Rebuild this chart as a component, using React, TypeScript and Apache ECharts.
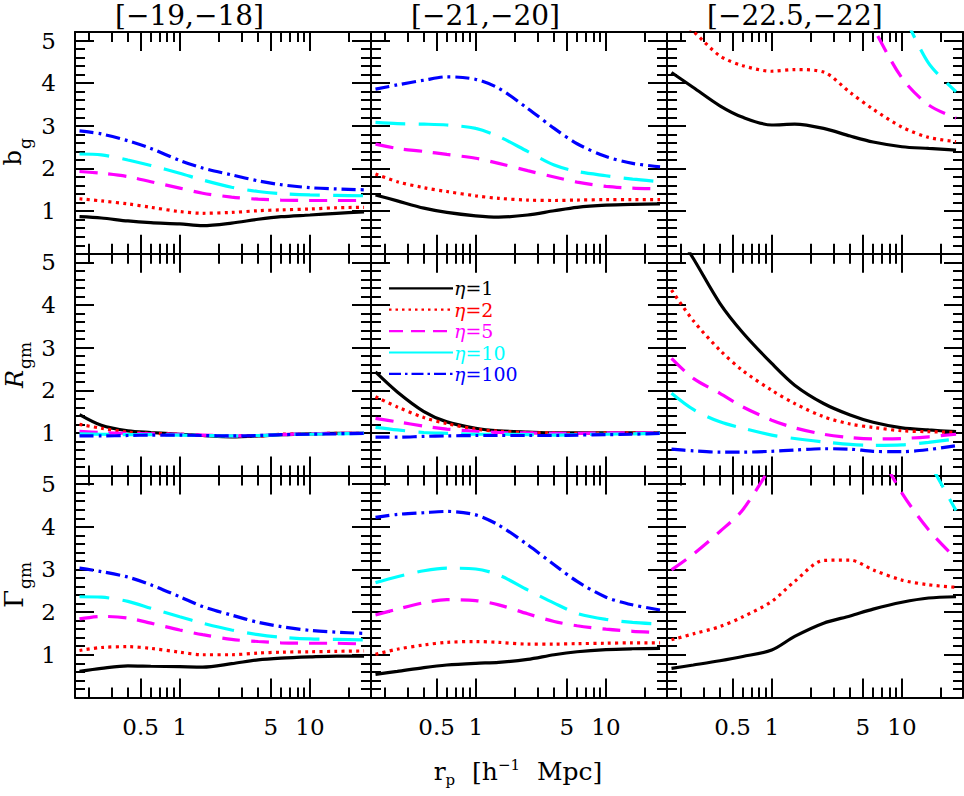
import React, { useEffect, useRef } from 'react';
import * as echarts from 'echarts';

// ---------- scaffold ----------
const R_P = [0.17, 0.25, 0.4, 0.6, 1.0, 1.5, 2.5, 4, 6, 10, 16, 26];
const MAG_BINS = ['[−19,−18]', '[−21,−20]', '[−22.5,−22]'];
const ETA_VALUES = ['1', '2', '5', '10', '100'];
const X_MAJOR_TICKS = [0.5, 1, 5, 10];
const X_MINOR_TICKS = [0.2, 0.3, 0.4, 0.6, 0.7, 0.8, 0.9, 2, 3, 4, 6, 7, 8, 9, 20];
const Y_MAJOR_TICKS = [1, 2, 3, 4, 5];
const Y_MINOR_TICKS = [0.2, 0.4, 0.6, 0.8, 1.2, 1.4, 1.6, 1.8, 2.2, 2.4, 2.6, 2.8, 3.2, 3.4, 3.6, 3.8, 4.2, 4.4, 4.6, 4.8];
const X_MIN = 0.157;
const X_MAX = 29.4;
const Y_MIN = 0;
const Y_MAX = 5.2;
const ROW_MAIN = ['b', 'R', 'Γ'];
const ROW_SUB = ['g', 'gm', 'gm'];

// ---------- b_g ----------
const bg19_eta1 = [0.87, 0.84, 0.77, 0.73, 0.70, 0.66, 0.72, 0.81, 0.87, 0.91, 0.95, 0.98];
const bg19_eta2 = [1.29, 1.24, 1.17, 1.09, 0.99, 0.95, 0.97, 1.01, 1.03, 1.05, 1.08, 1.09];
const bg19_eta5 = [1.93, 1.89, 1.81, 1.69, 1.54, 1.42, 1.33, 1.28, 1.26, 1.25, 1.25, 1.25];
const bg19_eta10 = [2.34, 2.32, 2.20, 2.07, 1.89, 1.73, 1.56, 1.46, 1.41, 1.38, 1.37, 1.36];
const bg19_eta100 = [2.88, 2.81, 2.65, 2.47, 2.19, 2.01, 1.85, 1.71, 1.62, 1.55, 1.52, 1.50];

const bg21_eta1 = [1.38, 1.24, 1.07, 0.97, 0.89, 0.86, 0.91, 1.01, 1.09, 1.14, 1.16, 1.17];
const bg21_eta2 = [1.87, 1.69, 1.55, 1.46, 1.36, 1.30, 1.26, 1.25, 1.26, 1.27, 1.27, 1.27];
const bg21_eta5 = [2.57, 2.47, 2.40, 2.33, 2.24, 2.12, 1.95, 1.80, 1.68, 1.58, 1.54, 1.52];
const bg21_eta10 = [3.08, 3.05, 3.04, 3.02, 2.94, 2.75, 2.40, 2.08, 1.93, 1.83, 1.75, 1.69];
const bg21_eta100 = [3.86, 3.96, 4.07, 4.15, 4.09, 3.88, 3.41, 2.94, 2.58, 2.28, 2.12, 2.04];

const bg22_eta1 = [4.25, 3.90, 3.47, 3.20, 3.02, 3.04, 2.94, 2.76, 2.62, 2.51, 2.47, 2.43];
const bg22_eta2 = [5.6, 5.21, 4.64, 4.41, 4.28, 4.32, 4.26, 3.78, 3.39, 2.97, 2.73, 2.63];
const bg22_eta5 = [null, null, null, null, null, null, null, 6.3, 5.31, 4.12, 3.49, 3.18];
const bg22_eta10 = [null, null, null, null, null, null, null, null, null, 5.7, 4.47, 3.80];
const bg22_eta100 = [null, null, null, null, null, null, null, null, null, null, null, null];

// ---------- R_gm ----------
const rgm19_eta1 = [1.43, 1.18, 1.05, 1.01, 0.97, 0.94, 0.91, 0.93, 0.96, 0.98, 0.99, 0.99];
const rgm19_eta2 = [1.20, 1.11, 1.02, 0.99, 0.97, 0.94, 0.93, 0.93, 0.97, 0.98, 0.99, 0.99];
const rgm19_eta5 = [1.04, 1.01, 0.99, 0.98, 0.97, 0.95, 0.93, 0.94, 0.96, 0.98, 0.99, 0.99];
const rgm19_eta10 = [0.98, 0.97, 0.96, 0.96, 0.95, 0.94, 0.93, 0.94, 0.96, 0.97, 0.98, 0.99];
const rgm19_eta100 = [0.93, 0.93, 0.94, 0.95, 0.95, 0.94, 0.93, 0.94, 0.96, 0.97, 0.98, 0.99];

const rgm21_eta1 = [2.43, 1.96, 1.50, 1.26, 1.11, 1.05, 1.02, 1.00, 1.00, 1.00, 1.00, 1.00];
const rgm21_eta2 = [1.85, 1.61, 1.36, 1.22, 1.09, 1.04, 1.01, 1.00, 0.99, 1.00, 1.00, 1.00];
const rgm21_eta5 = [1.34, 1.26, 1.16, 1.09, 1.04, 1.01, 1.00, 0.99, 0.99, 1.00, 1.00, 1.00];
const rgm21_eta10 = [1.13, 1.07, 1.01, 0.99, 0.97, 0.97, 0.96, 0.95, 0.96, 0.97, 0.98, 0.99];
const rgm21_eta100 = [0.90, 0.90, 0.92, 0.93, 0.94, 0.94, 0.94, 0.94, 0.95, 0.96, 0.97, 0.99];

const rgm22_eta1 = [5.9, 5.09, 4.04, 3.35, 2.63, 2.12, 1.69, 1.42, 1.25, 1.12, 1.07, 1.03];
const rgm22_eta2 = [4.35, 3.63, 2.94, 2.46, 2.00, 1.69, 1.38, 1.21, 1.13, 1.05, 1.03, 1.01];
const rgm22_eta5 = [2.75, 2.28, 1.93, 1.61, 1.30, 1.12, 0.97, 0.89, 0.86, 0.87, 0.91, 0.97];
const rgm22_eta10 = [1.93, 1.55, 1.26, 1.11, 0.95, 0.87, 0.79, 0.73, 0.71, 0.72, 0.78, 0.86];
const rgm22_eta100 = [0.62, 0.58, 0.55, 0.55, 0.57, 0.60, 0.63, 0.62, 0.57, 0.56, 0.61, 0.70];

// ---------- Gamma_gm ----------
const ggm19_eta1 = [0.61, 0.68, 0.74, 0.73, 0.72, 0.71, 0.79, 0.88, 0.92, 0.95, 0.97, 0.97];
const ggm19_eta2 = [1.10, 1.17, 1.19, 1.15, 1.06, 1.00, 1.00, 1.04, 1.06, 1.07, 1.08, 1.09];
const ggm19_eta5 = [1.84, 1.90, 1.86, 1.74, 1.58, 1.47, 1.36, 1.31, 1.28, 1.27, 1.27, 1.25];
const ggm19_eta10 = [2.36, 2.35, 2.25, 2.09, 1.89, 1.74, 1.58, 1.47, 1.41, 1.37, 1.36, 1.35];
const ggm19_eta100 = [3.03, 2.95, 2.82, 2.64, 2.36, 2.13, 1.93, 1.76, 1.66, 1.57, 1.53, 1.50];

const ggm21_eta1 = [0.54, 0.61, 0.70, 0.76, 0.80, 0.82, 0.89, 1.00, 1.07, 1.12, 1.14, 1.15];
const ggm21_eta2 = [1.01, 1.13, 1.23, 1.29, 1.31, 1.29, 1.25, 1.25, 1.26, 1.27, 1.28, 1.28];
const ggm21_eta5 = [1.93, 2.07, 2.22, 2.29, 2.27, 2.17, 1.96, 1.78, 1.68, 1.60, 1.55, 1.52];
const ggm21_eta10 = [2.69, 2.83, 2.97, 3.03, 3.01, 2.87, 2.52, 2.21, 1.97, 1.83, 1.76, 1.72];
const ggm21_eta100 = [4.22, 4.29, 4.33, 4.36, 4.28, 4.04, 3.58, 3.11, 2.72, 2.35, 2.17, 2.05];

const ggm22_eta1 = [0.68, 0.76, 0.86, 0.96, 1.11, 1.43, 1.74, 1.91, 2.07, 2.23, 2.33, 2.36];
const ggm22_eta2 = [1.35, 1.49, 1.66, 1.89, 2.25, 2.72, 3.21, 3.22, 2.99, 2.75, 2.64, 2.58];
const ggm22_eta5 = [2.99, 3.36, 3.89, 4.40, 5.45, null, null, null, 6.0, 4.79, 3.93, 3.25];
const ggm22_eta10 = [null, null, null, null, null, null, null, null, null, null, 5.54, 4.38];
const ggm22_eta100 = [null, null, null, null, null, null, null, null, null, null, null, null];

const PANELS = [
  [bg19_eta1, bg19_eta2, bg19_eta5, bg19_eta10, bg19_eta100],
  [bg21_eta1, bg21_eta2, bg21_eta5, bg21_eta10, bg21_eta100],
  [bg22_eta1, bg22_eta2, bg22_eta5, bg22_eta10, bg22_eta100],
  [rgm19_eta1, rgm19_eta2, rgm19_eta5, rgm19_eta10, rgm19_eta100],
  [rgm21_eta1, rgm21_eta2, rgm21_eta5, rgm21_eta10, rgm21_eta100],
  [rgm22_eta1, rgm22_eta2, rgm22_eta5, rgm22_eta10, rgm22_eta100],
  [ggm19_eta1, ggm19_eta2, ggm19_eta5, ggm19_eta10, ggm19_eta100],
  [ggm21_eta1, ggm21_eta2, ggm21_eta5, ggm21_eta10, ggm21_eta100],
  [ggm22_eta1, ggm22_eta2, ggm22_eta5, ggm22_eta10, ggm22_eta100],
];

// ---------- styles ----------
const FONT = 'DejaVu Serif';
const COLORS = ['#000000', '#ff0000', '#ff00ff', '#00ffff', '#0000ff'];
const DASHES: any[] = ['solid', [3, 4.3], [18, 11], [30, 13], [14, 5, 3, 5]];
const LEGEND_DASHES: any[] = [null, [2.5, 4], [14, 8], null, [12, 4, 2.5, 4]];
const GRID_LEFT = 75;
const GRID_TOP = 32;
const CELL_W = 296;
const CELL_H = 221.8;

function measure(text: string, font: string): number {
  const ctx = document.createElement('canvas').getContext('2d');
  if (!ctx) return text.length * 10;
  ctx.font = font;
  return ctx.measureText(text).width;
}

function buildOption() {
  const grid: any[] = [];
  const xAxis: any[] = [];
  const yAxis: any[] = [];
  const series: any[] = [];
  const tickLine = { color: '#000', width: 2 };
  const axisLineOn = { show: true, onZero: false, lineStyle: { color: '#000', width: 2 } };
  const axisLineOff = { show: false, onZero: false };

  for (let row = 0; row < 3; row++) {
    for (let col = 0; col < 3; col++) {
      const g = row * 3 + col;
      grid.push({
        left: GRID_LEFT + col * CELL_W,
        top: GRID_TOP + row * CELL_H,
        width: CELL_W,
        height: CELL_H,
        show: false,
      });
      const xBase = {
        type: 'log', logBase: 10, gridIndex: g, min: X_MIN, max: X_MAX,
        splitLine: { show: false }, minorTick: { show: false }, minorSplitLine: { show: false },
      };
      for (const pos of ['bottom', 'top']) {
        xAxis.push({
          ...xBase, position: pos, axisLine: axisLineOn,
          axisTick: { show: true, inside: true, length: 19, customValues: X_MAJOR_TICKS, lineStyle: tickLine },
          axisLabel: {
            show: pos === 'bottom' && row === 2,
            customValues: X_MAJOR_TICKS,
            margin: 18, fontSize: 23, fontFamily: FONT, color: '#000',
            formatter: (v: any) => {
              const n = Number(v);
              return n < 1 ? n.toFixed(1) : String(Math.round(n));
            },
          },
        });
        xAxis.push({
          ...xBase, position: pos, axisLine: axisLineOff,
          axisTick: { show: true, inside: true, length: 10, customValues: X_MINOR_TICKS, lineStyle: tickLine },
          axisLabel: { show: false },
        });
      }
      const yBase = {
        type: 'value', gridIndex: g, min: Y_MIN, max: Y_MAX,
        splitLine: { show: false }, minorTick: { show: false },
      };
      for (const pos of ['left', 'right']) {
        yAxis.push({
          ...yBase, position: pos, axisLine: axisLineOn,
          axisTick: { show: true, inside: true, length: 19, customValues: Y_MAJOR_TICKS, lineStyle: tickLine },
          axisLabel: {
            show: pos === 'left' && col === 0,
            customValues: Y_MAJOR_TICKS,
            margin: 19, fontSize: 23, fontFamily: FONT, color: '#000',
          },
        });
        yAxis.push({
          ...yBase, position: pos, axisLine: axisLineOff,
          axisTick: { show: true, inside: true, length: 10, customValues: Y_MINOR_TICKS, lineStyle: tickLine },
          axisLabel: { show: false },
        });
      }
      PANELS[g].forEach((vals, k) => {
        series.push({
          type: 'line',
          name: 'η=' + ETA_VALUES[k],
          xAxisIndex: g * 4,
          yAxisIndex: g * 4,
          data: R_P.map((r, i) => [r, vals[i]]),
          showSymbol: false,
          symbol: 'none',
          smooth: 0.3,
          clip: true,
          connectNulls: false,
          lineStyle: { color: COLORS[k], width: 3.2, type: DASHES[k], cap: 'butt' },
          emphasis: { disabled: true },
          silent: true,
        });
      });
    }
  }

  const graphic: any[] = [];
  // panel titles
  MAG_BINS.forEach((t, i) => {
    graphic.push({
      type: 'text', x: GRID_LEFT + i * CELL_W + 40, y: 15,
      style: { text: t, fontSize: 28, fontFamily: FONT, fill: '#000', align: 'left', verticalAlign: 'middle', textAlign: 'left', textVerticalAlign: 'middle' },
    });
  });
  // row titles (rotated)
  const rowY = [150, 370, 590];
  const mainBase = [19, 21, 21];
  const mainSize = [24, 24, 26];
  ROW_MAIN.forEach((m, i) => {
    graphic.push({
      type: 'group', x: 2, y: rowY[i], rotation: Math.PI / 2,
      children: [
        {
          type: 'text', x: 0, y: mainBase[i] - 0.35 * mainSize[i],
          style: { text: m, fontSize: mainSize[i], fontFamily: FONT, fontStyle: i === 1 ? 'italic' : 'normal', fill: '#000', align: 'right', verticalAlign: 'middle', textAlign: 'right', textVerticalAlign: 'middle' },
        },
        {
          type: 'text', x: 1, y: 29 - 0.35 * 17,
          style: { text: ROW_SUB[i], fontSize: 17, fontFamily: FONT, fill: '#000', align: 'left', verticalAlign: 'middle', textAlign: 'left', textVerticalAlign: 'middle' },
        },
      ],
    });
  });
  // x axis title r_p [h^-1 Mpc]
  const pieces = [
    { t: 'r', fs: 25, base: 780 },
    { t: 'p', fs: 15, base: 785 },
    { t: '  [h', fs: 25, base: 780 },
    { t: '−1', fs: 15, base: 770 },
    { t: '  Mpc]', fs: 25, base: 780 },
  ];
  const widths = pieces.map((p) => measure(p.t, `${p.fs}px "${FONT}"`) + (p.fs === 15 ? 1 : 0));
  const total = widths.reduce((a, b) => a + b, 0);
  let cx = 518 - total / 2;
  pieces.forEach((p, i) => {
    graphic.push({
      type: 'text', x: cx, y: p.base - 0.35 * p.fs,
      style: { text: p.t, fontSize: p.fs, fontFamily: FONT, fill: '#000', align: 'left', verticalAlign: 'middle', textAlign: 'left', textVerticalAlign: 'middle' },
    });
    cx += widths[i];
  });
  // legend inside middle panel
  ETA_VALUES.forEach((v, k) => {
    const ly = 288.3 + k * 21.4;
    graphic.push({
      type: 'line', shape: { x1: 389, y1: ly, x2: 453, y2: ly },
      style: { stroke: COLORS[k], lineWidth: 2.2, lineDash: LEGEND_DASHES[k] || undefined },
    });
    graphic.push({
      type: 'text', x: 454, y: ly,
      style: {
        text: '{e|η}=' + v,
        fontSize: 19, fontFamily: FONT, fill: COLORS[k],
        align: 'left', verticalAlign: 'middle', textAlign: 'left', textVerticalAlign: 'middle',
        rich: { e: { fontStyle: 'italic', fontSize: 19, fontFamily: FONT, fill: COLORS[k] } },
      },
    });
  });

  return {
    animation: false,
    backgroundColor: '#ffffff',
    grid, xAxis, yAxis, series, graphic,
  };
}

export default function App() {
  const ref = useRef<HTMLDivElement>(null);
  useEffect(() => {
    if (!ref.current) return;
    const chart = echarts.init(ref.current, null, { renderer: 'svg' });
    chart.setOption(buildOption() as any);
    return () => chart.dispose();
  }, []);
  return (
    <div
      ref={ref}
      style={{ position: 'fixed', left: 0, top: 0, width: 964, height: 796, background: '#fff' }}
    />
  );
}
